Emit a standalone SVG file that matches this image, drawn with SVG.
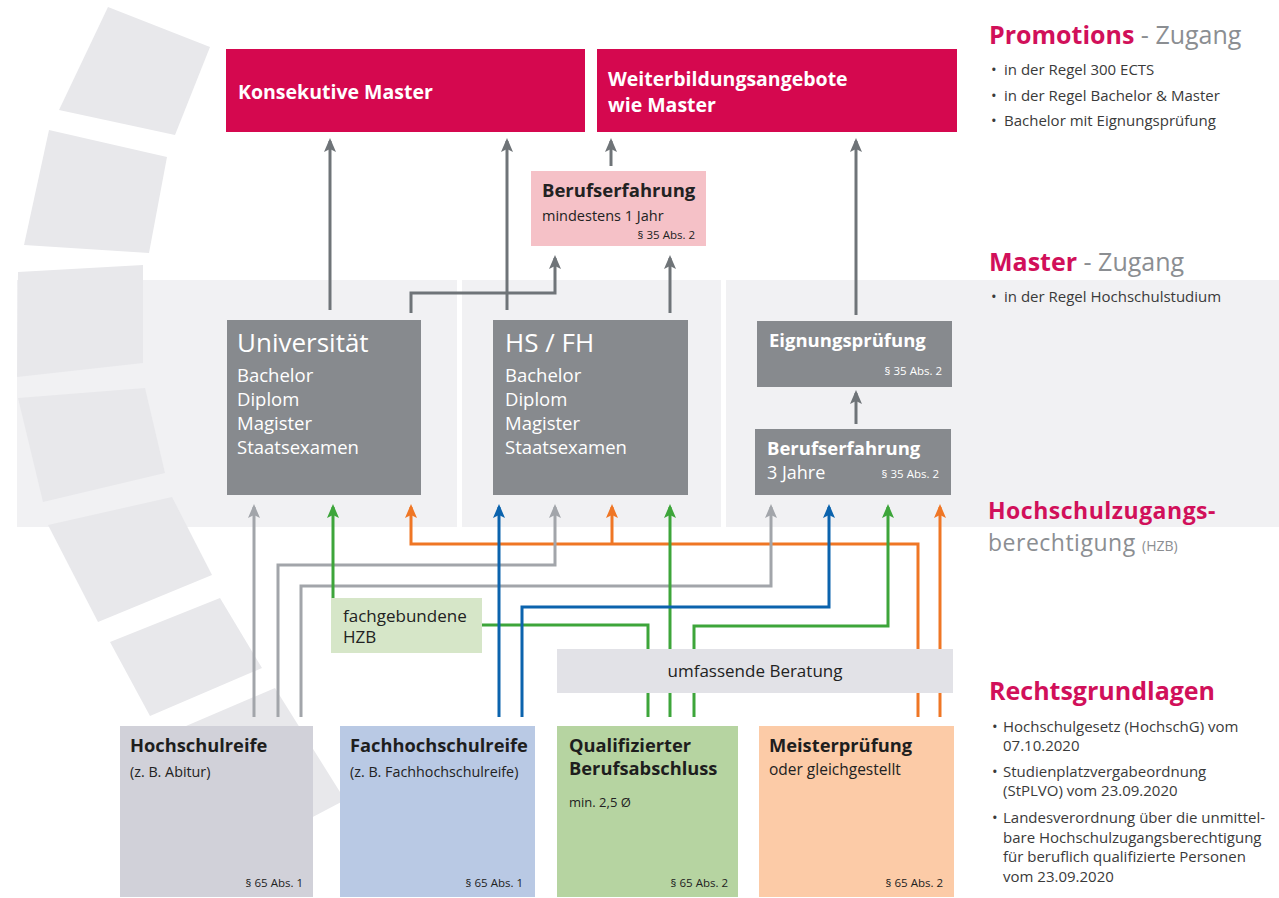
<svg xmlns="http://www.w3.org/2000/svg" width="1279" height="898" viewBox="0 0 1279 898">
<style>
text{font-family:"Open Sans",Lato,"Liberation Sans",sans-serif}
.w{fill:#ffffff}
.d{fill:#222222}
.b{font-weight:700}
.hd{font-size:19.5px;font-weight:700;fill:#ffffff}
.ttl{font-size:26px;fill:#ffffff}
.ln{font-size:18.5px;fill:#ffffff}
.par{font-size:11.5px;text-anchor:end}
.sub{font-size:14.3px}
.bh{font-size:18.3px;font-weight:700;fill:#1e1e1e}
.mag{fill:#d1105a}
.gry{fill:#8b8e92}
.li{font-size:15px;fill:#3a3a3a}
.c{fill:none;stroke-width:3}
.ug{stroke:#6f7478}
.lg{stroke:#a2a5aa}
.gr{stroke:#3da53a}
.bl{stroke:#0b63ad}
.or{stroke:#ef7625}
.seg{fill:#e8e8eb}
</style>
<defs>
<marker id="aU" viewBox="0 0 14 12" refX="11" refY="6" markerWidth="14" markerHeight="12" markerUnits="userSpaceOnUse" orient="auto"><path d="M0,0 L14,6 L0,12 L3,6 z" fill="#6f7478"/></marker>
<marker id="aL" viewBox="0 0 14 12" refX="11" refY="6" markerWidth="14" markerHeight="12" markerUnits="userSpaceOnUse" orient="auto"><path d="M0,0 L14,6 L0,12 L3,6 z" fill="#a2a5aa"/></marker>
<marker id="aG" viewBox="0 0 14 12" refX="11" refY="6" markerWidth="14" markerHeight="12" markerUnits="userSpaceOnUse" orient="auto"><path d="M0,0 L14,6 L0,12 L3,6 z" fill="#3da53a"/></marker>
<marker id="aB" viewBox="0 0 14 12" refX="11" refY="6" markerWidth="14" markerHeight="12" markerUnits="userSpaceOnUse" orient="auto"><path d="M0,0 L14,6 L0,12 L3,6 z" fill="#0b63ad"/></marker>
<marker id="aO" viewBox="0 0 14 12" refX="11" refY="6" markerWidth="14" markerHeight="12" markerUnits="userSpaceOnUse" orient="auto"><path d="M0,0 L14,6 L0,12 L3,6 z" fill="#ef7625"/></marker>
</defs>
<rect width="1279" height="898" fill="#ffffff"/>
<g id="background">
<rect x="17" y="280" width="1262" height="247" fill="#f1f1f3"/>
<rect x="457" y="280" width="5" height="247" fill="#ffffff"/>
<rect x="721" y="280" width="5" height="247" fill="#ffffff"/>
<polygon class="seg" points="108,7 210,47 175,135 59,110"/>
<polygon class="seg" points="49,130 167,157 149,253 24,245"/>
<polygon class="seg" points="18,272 143,265 143,363 17,377"/>
<polygon class="seg" points="18,398 145,388 165,473 43,502"/>
<polygon class="seg" points="48,525 172,497 212,575 98,622"/>
<polygon class="seg" points="110,642 220,598 262,668 150,716"/>
<polygon class="seg" points="165,735 275,688 345,800 250,850"/>
</g>
<g id="connectors">
<path class="c ug" d="M330,310 V141" marker-end="url(#aU)"/>
<path class="c ug" d="M507,310 V141" marker-end="url(#aU)"/>
<path class="c ug" d="M611,166 V141" marker-end="url(#aU)"/>
<path class="c ug" d="M411,313 V293 H555 V258" marker-end="url(#aU)"/>
<path class="c ug" d="M670,313 V258" marker-end="url(#aU)"/>
<path class="c ug" d="M856,315 V141" marker-end="url(#aU)"/>
<path class="c ug" d="M856,424 V393" marker-end="url(#aU)"/>
<path class="c or" d="M918,717 V544 H411 V507" marker-end="url(#aO)"/>
<path class="c or" d="M612,544 V507" marker-end="url(#aO)"/>
<path class="c or" d="M940,717 V507" marker-end="url(#aO)"/>
<path class="c lg" d="M254,717 V507" marker-end="url(#aL)"/>
<path class="c lg" d="M278,717 V565 H555 V507" marker-end="url(#aL)"/>
<path class="c lg" d="M301,717 V586 H771 V507" marker-end="url(#aL)"/>
<path class="c gr" d="M333,598 V507" marker-end="url(#aG)"/>
<path class="c gr" d="M648,717 V625 H482"/>
<path class="c gr" d="M670,717 V507" marker-end="url(#aG)"/>
<path class="c gr" d="M694,717 V626 H888 V507" marker-end="url(#aG)"/>
<path class="c bl" d="M499,717 V507" marker-end="url(#aB)"/>
<path class="c bl" d="M522,717 V607 H829 V507" marker-end="url(#aB)"/>
</g>
<g id="konsekutive-master">
<rect x="226" y="49" width="359" height="83" fill="#d5084f"/>
<text x="238" y="99" class="hd">Konsekutive Master</text>
</g>
<g id="weiterbildung">
<rect x="597" y="49" width="360" height="83" fill="#d5084f"/>
<text x="608" y="86" class="hd">Weiterbildungsangebote</text>
<text x="608" y="112" class="hd">wie Master</text>
</g>
<g id="berufserfahrung-1">
<rect x="531" y="171" width="175" height="75" fill="#f5c1c7"/>
<text x="542" y="197" class="d b" style="font-size:18.5px">Berufserfahrung</text>
<text x="542" y="221" class="d" style="font-size:14.5px">mindestens 1 Jahr</text>
<text x="695" y="239" class="d par">§ 35 Abs. 2</text>
</g>
<g id="universitaet">
<rect x="227" y="320" width="194" height="175" fill="#878a8e"/>
<text x="237" y="352" class="ttl">Universität</text>
<text x="237" y="382" class="ln">Bachelor</text>
<text x="237" y="406" class="ln">Diplom</text>
<text x="237" y="430" class="ln">Magister</text>
<text x="237" y="454" class="ln">Staatsexamen</text>
</g>
<g id="hs-fh">
<rect x="493" y="320" width="195" height="175" fill="#878a8e"/>
<text x="505" y="352" class="ttl">HS / FH</text>
<text x="505" y="382" class="ln">Bachelor</text>
<text x="505" y="406" class="ln">Diplom</text>
<text x="505" y="430" class="ln">Magister</text>
<text x="505" y="454" class="ln">Staatsexamen</text>
</g>
<g id="eignungspruefung">
<rect x="757" y="321" width="195" height="66" fill="#878a8e"/>
<text x="769" y="347" class="w b" style="font-size:18.5px">Eignungsprüfung</text>
<text x="942" y="375" class="w par">§ 35 Abs. 2</text>
</g>
<g id="berufserfahrung-3">
<rect x="755" y="429" width="196" height="66" fill="#878a8e"/>
<text x="767" y="455" class="w b" style="font-size:18.5px">Berufserfahrung</text>
<text x="767" y="479" class="w" style="font-size:18px">3 Jahre</text>
<text x="939" y="478" class="w par">§ 35 Abs. 2</text>
</g>
<g id="fachgebundene-hzb">
<rect x="331" y="598" width="151" height="55" fill="#d6e6c8"/>
<text x="343" y="622" class="d" style="font-size:17px">fachgebundene</text>
<text x="343" y="643" class="d" style="font-size:17px">HZB</text>
</g>
<g id="umfassende-beratung">
<rect x="557" y="649" width="396" height="44" fill="#e2e2e7"/>
<text x="755" y="677" class="d" style="font-size:17px;text-anchor:middle">umfassende Beratung</text>
</g>
<g id="hochschulreife">
<rect x="120" y="726" width="193" height="171" fill="#d1d1d9"/>
<text x="130" y="752" class="bh">Hochschulreife</text>
<text x="130" y="777" class="d sub">(z. B. Abitur)</text>
<text x="303" y="887" class="d par">§ 65 Abs. 1</text>
</g>
<g id="fachhochschulreife">
<rect x="340" y="726" width="195" height="171" fill="#b9c9e4"/>
<text x="350" y="752" class="bh">Fachhochschulreife</text>
<text x="350" y="777" class="d sub">(z. B. Fachhochschulreife)</text>
<text x="523" y="887" class="d par">§ 65 Abs. 1</text>
</g>
<g id="qualifizierter-berufsabschluss">
<rect x="557" y="726" width="181" height="171" fill="#b6d4a1"/>
<text x="569" y="752" class="bh">Qualifizierter</text>
<text x="569" y="775" class="bh">Berufsabschluss</text>
<text x="569" y="807" class="d" style="font-size:13px">min. 2,5 Ø</text>
<text x="728" y="887" class="d par">§ 65 Abs. 2</text>
</g>
<g id="meisterpruefung">
<rect x="759" y="726" width="195" height="171" fill="#fccba7"/>
<text x="769" y="752" class="bh">Meisterprüfung</text>
<text x="769" y="775" class="d" style="font-size:15.5px">oder gleichgestellt</text>
<text x="943" y="887" class="d par">§ 65 Abs. 2</text>
</g>
<g id="legend">
<text x="989" y="44" style="font-size:25px"><tspan class="mag" font-weight="700">Promotions</tspan><tspan class="gry"> - Zugang</tspan></text>
<text x="991" y="75" class="li">•</text><text x="1004" y="75" class="li">in der Regel 300 ECTS</text>
<text x="991" y="101" class="li">•</text><text x="1004" y="101" class="li">in der Regel Bachelor &amp; Master</text>
<text x="991" y="126" class="li">•</text><text x="1004" y="126" class="li">Bachelor mit Eignungsprüfung</text>
<text x="989" y="271" style="font-size:25px"><tspan class="mag" font-weight="700">Master</tspan><tspan class="gry"> - Zugang</tspan></text>
<text x="991" y="302" class="li">•</text><text x="1004" y="302" class="li">in der Regel Hochschulstudium</text>
<text x="988" y="519" class="mag b" style="font-size:23px;letter-spacing:0.5px">Hochschulzugangs-</text>
<text x="988" y="551" class="gry" style="font-size:23px;letter-spacing:0.5px">berechtigung <tspan style="font-size:14px;letter-spacing:0">(HZB)</tspan></text>
<text x="989" y="700" class="mag b" style="font-size:25px">Rechtsgrundlagen</text>
<text x="992" y="732" class="li">•</text><text x="1003" y="732" class="li">Hochschulgesetz (HochschG) vom</text>
<text x="1003" y="751" class="li">07.10.2020</text>
<text x="992" y="777" class="li">•</text><text x="1003" y="777" class="li">Studienplatzvergabeordnung</text>
<text x="1003" y="796" class="li">(StPLVO) vom 23.09.2020</text>
<text x="992" y="823" class="li">•</text><text x="1003" y="823" class="li">Landesverordnung über die unmittel-</text>
<text x="1003" y="843" class="li">bare Hochschulzugangsberechtigung</text>
<text x="1003" y="862" class="li">für beruflich qualifizierte Personen</text>
<text x="1003" y="882" class="li">vom 23.09.2020</text>
</g>
</svg>
